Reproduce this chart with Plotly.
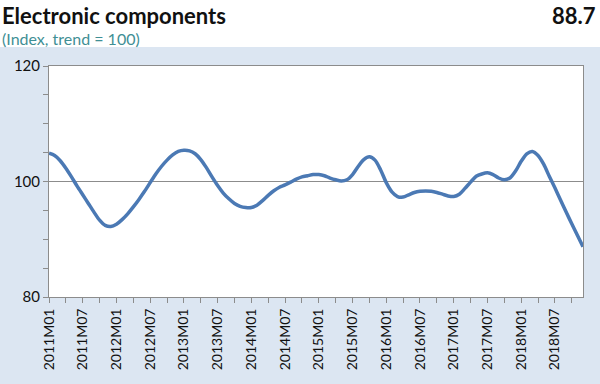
import plotly.graph_objects as go

months = [f"{y}M{m:02d}" for y in range(2011, 2019) for m in range(1, 13)]
values = [
    104.9, 104.5, 103.6, 102.3, 100.8, 99.2, 97.7, 96.2, 94.7, 93.3, 92.4, 92.2,
    92.6, 93.4, 94.4, 95.6, 96.9, 98.3, 99.8, 101.3, 102.6, 103.7, 104.6, 105.2,
    105.4, 105.3, 104.8, 103.8, 102.4, 100.8, 99.3, 98.0, 97.0, 96.2, 95.7, 95.5,
    95.5, 95.9, 96.7, 97.6, 98.4, 99.0, 99.4, 99.9, 100.4, 100.8, 101.0, 101.2,
    101.2, 101.0, 100.6, 100.3, 100.1, 100.3, 101.2, 102.6, 103.8, 104.3, 103.7, 102.0,
    99.8, 98.2, 97.4, 97.3, 97.7, 98.1, 98.3, 98.35, 98.3, 98.1, 97.8, 97.5,
    97.4, 97.8, 98.8, 99.9, 100.9, 101.3, 101.5, 101.2, 100.6, 100.3, 100.6, 101.8,
    103.5, 104.8, 105.2, 104.5, 103.0, 100.9, 98.9, 96.8, 94.7, 92.7, 90.7, 88.7,
]
tick_labels = months[::6]
title_text = "Electronic components"
subtitle_text = "(Index, trend = 100)"
latest_text = "88.7"

idx = list(range(len(values)))

W, H = 600, 384
L, R, T, B = 49, 17, 66, 87
pw, ph = W - L - R, H - T - B

def px_x(p):
    return (p - L) / pw

def px_y(p):
    return (H - B - p) / ph

fig = go.Figure()
fig.add_trace(go.Scatter(
    x=idx, y=values, mode="lines",
    line=dict(color="#4B79B4", width=3.5, shape="spline", smoothing=0.8),
    hoverinfo="skip",
))

axis_col = "#8C8C8C"
fig.update_xaxes(
    range=[0, len(values) - 1],
    tickvals=idx[::6], ticktext=tick_labels, tickangle=-90,
    ticks="outside", ticklen=5, tickcolor=axis_col,
    minor=dict(ticks="outside", dtick=3, tick0=0, ticklen=5, tickcolor=axis_col, showgrid=False),
    showline=True, linecolor=axis_col, linewidth=1, mirror=True,
    showgrid=False, zeroline=False,
    tickfont=dict(family="Lato", size=14, color="#111"),
)
fig.update_yaxes(
    range=[80, 120], dtick=20, tick0=80,
    ticks="outside", ticklen=5, tickcolor=axis_col,
    minor=dict(ticks="outside", dtick=5, ticklen=5, tickcolor=axis_col, showgrid=False),
    showline=True, linecolor=axis_col, linewidth=1, mirror=True,
    showgrid=True, gridcolor=axis_col, gridwidth=1, zeroline=False,
    tickfont=dict(family="Lato", size=15, color="#111"),
)

fig.add_shape(type="rect", xref="paper", yref="paper",
              x0=px_x(0), x1=px_x(W), y0=px_y(47), y1=px_y(0),
              fillcolor="white", line=dict(width=0), layer="below")

fig.add_annotation(text=f"<b>{title_text}</b>", xref="paper", yref="paper",
                   x=px_x(0), y=px_y(0), xanchor="left", yanchor="top",
                   showarrow=False, font=dict(family="Lato", size=22, color="#111"))
fig.add_annotation(text=subtitle_text, xref="paper", yref="paper",
                   x=px_x(0), y=px_y(27), xanchor="left", yanchor="top",
                   showarrow=False, font=dict(family="Lato", size=16, color="#3F8F95"))
fig.add_annotation(text=f"<b>{latest_text}</b>", xref="paper", yref="paper",
                   x=px_x(598), y=px_y(0), xanchor="right", yanchor="top",
                   showarrow=False, font=dict(family="Lato", size=22, color="#111"))

fig.update_layout(
    width=W, height=H,
    margin=dict(l=L, r=R, t=T, b=B, pad=0),
    paper_bgcolor="#DCE6F2", plot_bgcolor="white",
    showlegend=False,
)
fig.write_html("out.html", config={"displayModeBar": False},
               post_script="document.body.style.margin='0';document.body.style.overflow='hidden';")
